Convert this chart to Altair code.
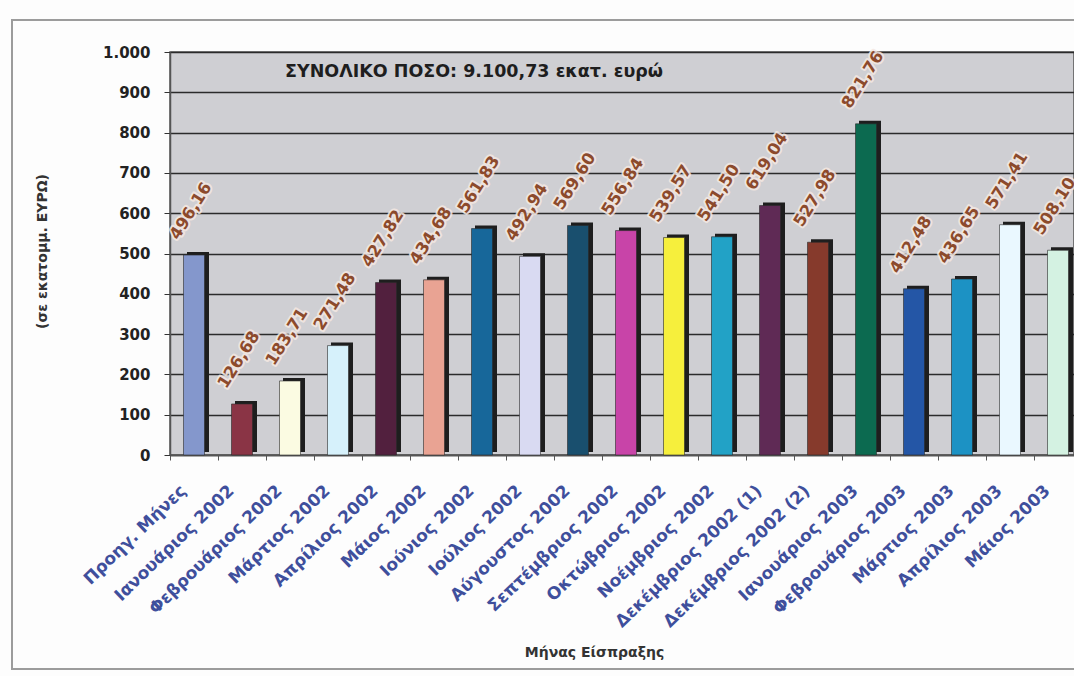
import altair as alt
import pandas as pd

# Monthly receipts (million EUR)
months = [
    "Προηγ. Μήνες", "Ιανουάριος 2002", "Φεβρουάριος 2002", "Μάρτιος 2002",
    "Απρίλιος 2002", "Μάιος 2002", "Ιούνιος 2002", "Ιούλιος 2002",
    "Αύγουστος 2002", "Σεπτέμβριος 2002", "Οκτώβριος 2002", "Νοέμβριος 2002",
    "Δεκέμβριος 2002 (1)", "Δεκέμβριος 2002 (2)", "Ιανουάριος 2003",
    "Φεβρουάριος 2003", "Μάρτιος 2003", "Απρίλιος 2003", "Μάιος 2003",
]
amounts = [
    496.16, 126.68, 183.71, 271.48, 427.82, 434.68, 561.83, 492.94,
    569.60, 556.84, 539.57, 541.50, 619.04, 527.98, 821.76,
    412.48, 436.65, 571.41, 508.10,
]
bar_colors = [
    "#8497cc", "#8a3445", "#fbfbe2", "#d6f1fb", "#52203e", "#e9a393",
    "#17679a", "#d9daf2", "#194f6e", "#c844a8", "#f6ef3c", "#22a2c6",
    "#5f2a55", "#863a2c", "#0c6a50", "#2456a6", "#1c92c4", "#eaf8ff",
    "#d4f2e2",
]
y_ticks = [0, 100, 200, 300, 400, 500, 600, 700, 800, 900, 1000]
total_text = "ΣΥΝΟΛΙΚΟ ΠΟΣΟ:  9.100,73  εκατ. ευρώ"

df = pd.DataFrame({"month": months, "amount": amounts, "color": bar_colors})
df["label"] = [f"{v:.2f}".replace(".", ",") for v in df["amount"]]

FONT = "DejaVu Sans"

x_enc = alt.X(
    "month:N",
    sort=months,
    scale=alt.Scale(domain=months, range=[0, 912], paddingInner=0, paddingOuter=0),
    axis=alt.Axis(
        title="Μήνας Είσπραξης",
        titleFont=FONT, titleFontSize=14, titleFontWeight="bold", titleColor="#333333",
        titleX=424, titleY=197, titleAlign="center", titleBaseline="middle",
        labelAngle=316, labelAlign="right", labelBaseline="middle",
        labelPadding=28, labelOffset=-11, labelLimit=400,
        labelFont=FONT, labelFontSize=17, labelFontWeight="bold", labelColor="#3f4f9c",
        labelOverlap=False, labelBound=False,
        tickBand="extent", tickColor="#555555", tickSize=5,
        domainColor="#555555", domainWidth=1.5,
    ),
)
y_enc = alt.Y(
    "amount:Q",
    scale=alt.Scale(domain=[0, 1000], nice=False),
    axis=alt.Axis(
        title="(σε εκατομμ. ΕΥΡΩ)",
        titleFont=FONT, titleFontSize=14, titleFontWeight="bold", titleColor="#333333",
        titleAngle=270, titleX=-128, titleY=199, titleAlign="center", titleBaseline="middle",
        values=y_ticks,
        labelExpr="datum.value >= 1000 ? '1.000' : datum.label",
        labelFont=FONT, labelFontSize=15, labelFontWeight="bold", labelColor="#222222",
        labelPadding=14, tickSize=6, tickColor="#333333",
        grid=True, gridColor="#2b2b2b", gridWidth=1.3,
        domainColor="#555555", domainWidth=1.5,
    ),
)

base = alt.Chart(df)

# dark side face giving the bars their depth
shadow = base.mark_bar(size=22, xOffset=4, yOffset=-3, color="#1e1e1e").encode(x=x_enc, y=y_enc)
bars = base.mark_bar(size=21, stroke="#2a2a2a", strokeWidth=0.6).encode(
    x=x_enc, y=y_enc, color=alt.Color("color:N", scale=None)
)

# value labels, centred over each bar
label_style = dict(angle=302, align="center", baseline="middle", xOffset=-3, yOffset=-44,
                   font=FONT, fontSize=16.5, fontWeight="bold")
halo = base.mark_text(stroke="#f4e8e2", strokeWidth=4, strokeJoin="round",
                      color="#f4e8e2", opacity=0.85, **label_style).encode(
    x=x_enc, y=y_enc, text="label:N")
labels = base.mark_text(color="#8c4a2c", **label_style).encode(
    x=x_enc, y=y_enc, text="label:N")

one = pd.DataFrame({"k": [0]})
total = alt.Chart(one).mark_text(
    align="left", baseline="middle", font=FONT, fontSize=17.5, fontWeight="bold", color="#1e1e1e"
).encode(x=alt.value(115), y=alt.value(20), text=alt.value(total_text))

frame = alt.Chart(one).mark_rect(filled=False, stroke="#9c9c9c", strokeWidth=2).encode(
    x=alt.value(-158), x2=alt.value(940), y=alt.value(-32), y2=alt.value(617)
)

chart = alt.layer(frame, shadow, bars, halo, labels, total).properties(
    width=904, height=403,
    padding={"left": 170, "top": 52, "right": 0, "bottom": 221},
    autosize=alt.AutoSizeParams(type="none"),
    background="#fdfdfd",
).configure_view(fill="#cfcfd3", stroke="#555555", strokeWidth=1.5)

chart.save("out.html", embed_options={"renderer": "svg", "actions": False})
